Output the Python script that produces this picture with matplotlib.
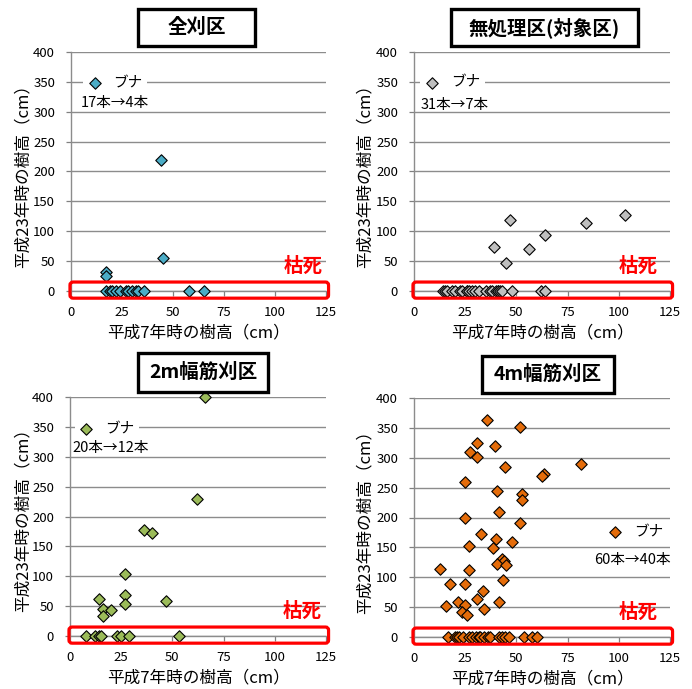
import matplotlib

matplotlib.use('Agg')

import matplotlib.pyplot as plt
from matplotlib.patches import FancyBboxPatch, Rectangle

plt.rcParams['font.family'] = ['Noto Sans CJK JP', 'DejaVu Sans']

# 全刈区 (17本 -> 4本)
zen_h7 = [44, 45, 17, 17,
          17, 19, 20, 22, 24, 27, 28, 30, 32, 33, 36, 58, 65]
zen_h23 = [220, 56, 31, 25,
           0, 0, 0, 0, 0, 0, 0, 0, 0, 0, 0, 0, 0]

# 無処理区 (31本 -> 7本)
mu_h7 = [47, 103, 84, 64, 39, 56, 45,
         14, 15, 16, 18.5, 20, 22.5, 23.5, 26, 26, 27, 28.5, 30,
         31.5, 35, 37, 38, 40, 41, 41, 42, 43, 48, 62, 64]
mu_h23 = [118, 128, 114, 94, 73, 71, 47,
          0, 0, 0, 0, 0, 0, 0, 0, 0, 0, 0, 0,
          0, 0, 0, 0, 0, 0, 0, 0, 0, 0, 0, 0]

# 2m幅筋刈区 (20本 -> 12本)
s2_h7 = [66, 62, 36, 40, 27, 27, 27, 47, 14, 16, 20, 16,
         8, 12, 14, 15, 23, 25, 29, 53]
s2_h23 = [400, 229, 178, 173, 104, 69, 53, 59, 62, 46, 44, 34,
          0, 0, 0, 0, 0, 0, 0, 0]

# 4m幅筋刈区 (60本 -> 40本)
s4_h7 = [35.7, 51.6, 30.7, 39.6, 27.4, 30.7, 44.6, 81.5, 63.5, 62.5,
         24.8, 40.7, 52.6, 52.6, 41.4, 24.7, 51.8, 32.5, 39.8, 47.7,
         26.8, 38.6, 43.2, 44, 40.6, 45, 12.7, 26.8, 43.7, 17.7,
         24.7, 33.8, 21.6, 30.7, 41.4, 15.7, 24.8, 34, 23.2, 25.8,
         16.5, 20, 21, 22, 24, 27, 28.5, 30.5, 31.5, 32,
         34, 36, 37, 41.5, 43, 44.5, 46.5, 53.5, 57.5, 60]
s4_h23 = [364, 351, 325, 320, 310, 301, 285, 290, 272, 269,
          259, 244, 240, 230, 209, 199, 190, 172, 164, 159,
          153, 149, 131, 128, 123, 120, 114, 112, 96, 88,
          88, 77, 58, 64, 58, 52, 53, 47, 42, 37,
          0, 0, 0, 0, 0, 0, 0, 0, 0, 0,
          0, 0, 0, 0, 0, 0, 0, 0, 0, 0]

titles = ['全刈区', '無処理区(対象区)', '2m幅筋刈区', '4m幅筋刈区']
counts = ['17本→4本', '31本→7本', '20本→12本', '60本→40本']
colors = ['#4BACC6', '#BFBFBF', '#9BBB59', '#E46C0A']
xticks = [0, 25, 50, 75, 100, 125]
yticks = [0, 50, 100, 150, 200, 250, 300, 350, 400]

W, H = 692, 689
fig = plt.figure(figsize=(W / 100, H / 100), dpi=100)


def px_rect(left, top, right, bottom):
    return [left / W, 1 - bottom / H, (right - left) / W, (bottom - top) / H]


# pixel layout: axes box, title box, legend / count anchors, ylabel centre
panels = [
    dict(h7=zen_h7, h23=zen_h23, ax=(71, 52, 326, 291), box=(138, 9, 255, 46),
         leg=(0.058, 0.869), cnt=(0.040, 0.787), kare=123.5, ylab=23),
    dict(h7=mu_h7, h23=mu_h23, ax=(414, 52, 670, 291), box=(451, 9, 638, 46),
         leg=(0.036, 0.872), cnt=(0.024, 0.778), kare=119, ylab=365),
    dict(h7=s2_h7, h23=s2_h23, ax=(70, 397, 326, 636), box=(138, 353, 268, 392),
         leg=(0.029, 0.866), cnt=(0.011, 0.787), kare=123, ylab=23),
    dict(h7=s4_h7, h23=s4_h23, ax=(414, 398, 670, 637), box=(482, 356, 614, 393),
         leg=(0.750, 0.438), cnt=(0.702, 0.322), kare=119, ylab=365),
]

for i, p in enumerate(panels):
    l, t, r, b = p['ax']
    ax = fig.add_axes(px_rect(l, t, r, b))
    ax.set_xlim(0, 125)
    ax.set_ylim(0, 400)
    ax.set_xticks(xticks)
    ax.set_yticks(yticks)
    ax.tick_params(axis='both', labelsize=9.5, colors='#808080',
                   labelcolor='black', length=3.5, width=0.9)
    ax.tick_params(axis='y', pad=8)
    ax.tick_params(axis='x', pad=7)
    ax.yaxis.grid(True, color='#8C8C8C', linewidth=1.0)
    ax.set_axisbelow(True)
    for side in ['top', 'right']:
        ax.spines[side].set_visible(False)
    for side in ['left', 'bottom']:
        ax.spines[side].set_color('#8C8C8C')
        ax.spines[side].set_linewidth(1.0)

    sc = ax.scatter(p['h7'], p['h23'], marker='D', s=34, c=colors[i],
                    edgecolors='black', linewidths=0.8, clip_on=False,
                    zorder=4, label='ブナ')

    ax.set_xlabel('平成7年時の樹高（cm）', fontsize=12, labelpad=4)
    ax.set_ylabel('平成23年時の樹高（cm）', fontsize=12)
    ax.yaxis.set_label_coords((p['ylab'] - l) / (r - l), 0.5)
    ax.yaxis.label.set_va('center')

    leg = ax.legend(handles=[sc], loc='center left', bbox_to_anchor=p['leg'],
                    fontsize=10.5, frameon=True, facecolor='white',
                    edgecolor='none', framealpha=1, handletextpad=0.8,
                    borderpad=0.1, borderaxespad=0, scatterpoints=1,
                    handlelength=1.0)
    leg.get_frame().set_boxstyle('square', pad=0.2)
    leg.set_zorder(5)
    ax.text(p['cnt'][0], p['cnt'][1], counts[i], transform=ax.transAxes,
            fontsize=10.5, ha='left', va='center', zorder=7,
            bbox=dict(facecolor='white', edgecolor='none', pad=1)
            if i == 3 else None)

    # 枯死 band along the zero line
    band = FancyBboxPatch((-0.004, -0.03), 1.014, 0.0675,
                          boxstyle='round,pad=0,rounding_size=0.012',
                          mutation_aspect=(r - l) / (b - t),
                          transform=ax.transAxes, fill=False,
                          edgecolor='#FF0000', linewidth=2.3,
                          clip_on=False, zorder=6)
    ax.add_patch(band)
    ax.text(p['kare'], 42, '枯死', color='#FF0000', fontsize=14,
            fontweight='bold', ha='right', va='center', zorder=6)

    bl, bt, br, bb = p['box']
    fig.patches.append(Rectangle((bl / W, 1 - bb / H), (br - bl) / W,
                                 (bb - bt) / H, transform=fig.transFigure,
                                 facecolor='white', edgecolor='black',
                                 linewidth=2.4, zorder=10))
    fig.text((bl + br) / 2 / W, 1 - (bt + bb) / 2 / H, titles[i],
             fontsize=14, fontweight='bold', ha='center', va='center',
             zorder=11)

fig.savefig('out.png', dpi=100)
